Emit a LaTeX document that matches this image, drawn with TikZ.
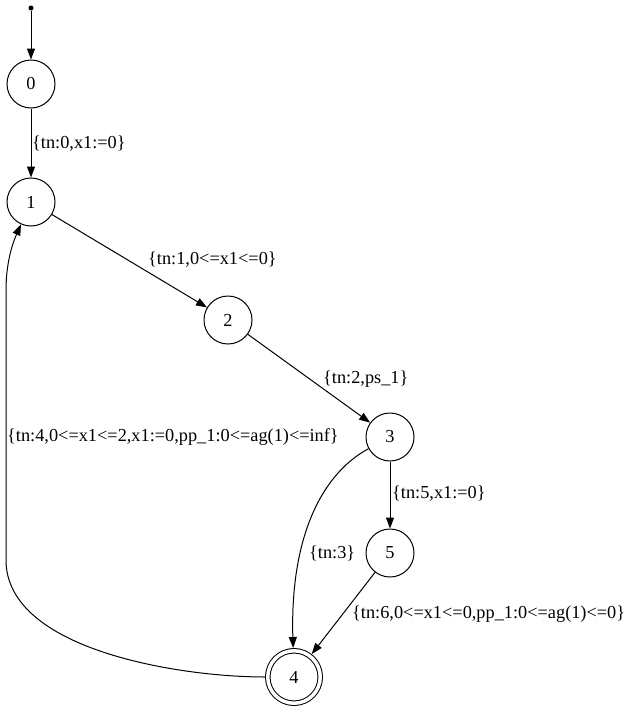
\documentclass[tikz,border=0pt]{standalone}
\usepackage{fontspec}
\setmainfont{Liberation Serif}
\usetikzlibrary{arrows.meta}
\begin{document}
\begin{tikzpicture}[x=1pt,y=-1pt,
  every node/.style={font=\fontsize{18.3}{21}\selectfont},
  state/.style={draw,circle,line width=1pt,minimum size=48pt,inner sep=0pt},
  final/.style={draw,circle,line width=1pt,double,double distance=3.5pt,minimum size=52.5pt,inner sep=0pt,outer sep=2.75pt},
  edge/.style={line width=1pt,-{Triangle[length=11pt,width=8pt]}},
  lab/.style={anchor=west,inner sep=0pt}]
\useasboundingbox (0,0) rectangle (633,712);

% states
\node[circle,fill,inner sep=0pt,minimum size=5pt] (init) at (31,8) {};
\node[state] (n0) at (31,84) {0};
\node[state] (n1) at (31,202) {1};
\node[state] (n2) at (228,320) {2};
\node[state] (n3) at (390,437) {3};
\node[state] (n5) at (390,553) {5};
\node[final] (n4) at (294,677) {4};

% transitions
\draw[edge] (init) -- (n0);
\draw[edge] (n0) -- (n1);
\draw[edge] (n1) -- (n2);
\draw[edge] (n2) -- (n3);
\draw[edge] (n3) -- (n5);
\draw[edge] (n3) .. controls (320,475) and (290,540) .. (n4);
\draw[edge] (n5) -- (n4);
\draw[edge] (n4) .. controls (180,677) and (6,650) .. (6,560) -- (6,290)
  .. controls (6,260) and (14,240) .. (n1);

% transition labels
\node[lab] (l01) at (32,144) {\{tn:0,x1:=0\}};
\node[lab] (l12) at (148,260) {\{tn:1,0<=x1<=0\}};
\node[lab] (l23) at (323,379) {\{tn:2,ps\_1\}};
\node[lab] (l41) at (7,437) {\{tn:4,0<=x1<=2,x1:=0,pp\_1:0<=ag(1)<=inf\}};
\node[lab] (l35) at (392,494) {\{tn:5,x1:=0\}};
\node[lab] (l34) at (309,553) {\{tn:3\}};
\node[lab] (l54) at (352,614) {\{tn:6,0<=x1<=0,pp\_1:0<=ag(1)<=0\}};
\end{tikzpicture}
\end{document}
